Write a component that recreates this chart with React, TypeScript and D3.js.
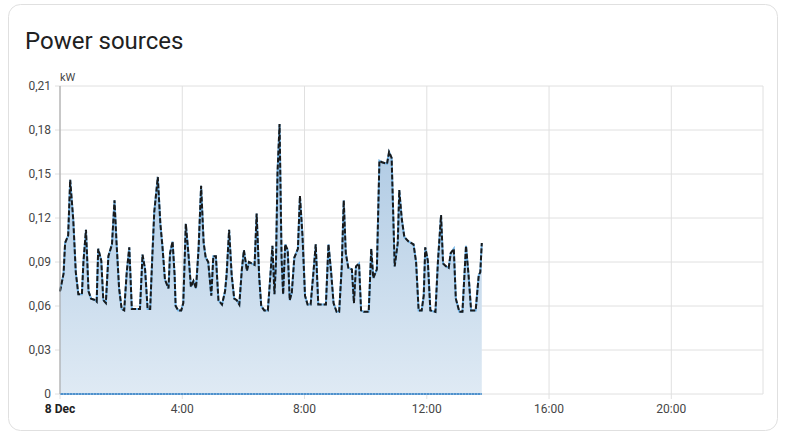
import React from 'react';
import * as d3 from 'd3';

// minutes since midnight, kW
const gridPower: [number, number][] = [
  [0, 0.070], [7, 0.082], [10, 0.103], [16, 0.108], [20, 0.146], [26, 0.119], [31, 0.083], [36, 0.068],
  [43, 0.068], [46, 0.090], [51, 0.112], [56, 0.070], [61, 0.065], [69, 0.064], [72, 0.063], [75, 0.099],
  [81, 0.091], [85, 0.064], [90, 0.062], [95, 0.094], [102, 0.102], [107, 0.132], [111, 0.103], [116, 0.072],
  [121, 0.058], [126, 0.057], [131, 0.083], [136, 0.100], [141, 0.058], [147, 0.058], [157, 0.058], [162, 0.095],
  [167, 0.085], [172, 0.058], [177, 0.058], [181, 0.092], [185, 0.124], [192, 0.148], [197, 0.116], [201, 0.101],
  [206, 0.078], [213, 0.072], [216, 0.096], [221, 0.104], [225, 0.081], [227, 0.060], [232, 0.057], [238, 0.057],
  [242, 0.062], [247, 0.116], [252, 0.096], [257, 0.073], [262, 0.077], [267, 0.072], [272, 0.099], [277, 0.142],
  [282, 0.103], [286, 0.093], [291, 0.090], [297, 0.067], [301, 0.094], [306, 0.094], [311, 0.064], [318, 0.061],
  [324, 0.070], [327, 0.081], [332, 0.112], [337, 0.081], [342, 0.065], [347, 0.064], [352, 0.061], [357, 0.085],
  [361, 0.098], [367, 0.084], [371, 0.090], [376, 0.089], [382, 0.088], [386, 0.123], [391, 0.080], [395, 0.060],
  [401, 0.057], [408, 0.057], [412, 0.076], [417, 0.101], [421, 0.068], [424, 0.090], [427, 0.151], [431, 0.184],
  [435, 0.092], [438, 0.068], [442, 0.102], [447, 0.098], [451, 0.064], [455, 0.069], [460, 0.093], [467, 0.099],
  [471, 0.135], [476, 0.108], [481, 0.067], [486, 0.061], [492, 0.061], [498, 0.085], [502, 0.102], [507, 0.061],
  [514, 0.061], [522, 0.061], [527, 0.102], [532, 0.084], [537, 0.062], [543, 0.056], [548, 0.056], [553, 0.086],
  [557, 0.132], [561, 0.096], [566, 0.086], [573, 0.085], [577, 0.062], [581, 0.087], [587, 0.089], [591, 0.057],
  [596, 0.056], [606, 0.056], [611, 0.099], [615, 0.079], [622, 0.085], [627, 0.159], [632, 0.158], [642, 0.157],
  [646, 0.165], [651, 0.161], [657, 0.087], [663, 0.103], [666, 0.139], [671, 0.119], [676, 0.107], [684, 0.104],
  [694, 0.102], [699, 0.090], [704, 0.057], [710, 0.057], [714, 0.067], [717, 0.100], [722, 0.091], [727, 0.057],
  [737, 0.056], [742, 0.091], [748, 0.122], [752, 0.089], [758, 0.087], [763, 0.086], [767, 0.096], [773, 0.099],
  [777, 0.065], [784, 0.056], [790, 0.056], [797, 0.101], [802, 0.081], [807, 0.057], [816, 0.057], [822, 0.081],
  [825, 0.083], [828, 0.103],
];

// second source, flat at zero
const solarPower: [number, number][] = [[0, 0], [828, 0]];

const xTicks = [0, 240, 480, 720, 960, 1200];
const xTickLabels = ['8 Dec', '4:00', '8:00', '12:00', '16:00', '20:00'];
const yTicks = [0, 0.03, 0.06, 0.09, 0.12, 0.15, 0.18, 0.21];
const yTickLabels = ['0', '0,03', '0,06', '0,09', '0,12', '0,15', '0,18', '0,21'];

const W = 785;
const H = 435;
const plot = { left: 60, right: 763, top: 86, bottom: 394 };
const font = 'Roboto, "Noto Sans", sans-serif';

export default function App() {
  const x = d3.scaleLinear().domain([0, 1380]).range([plot.left, plot.right]);
  const y = d3.scaleLinear().domain([0, 0.21]).range([plot.bottom, plot.top]);

  const area = d3.area<[number, number]>()
    .x(d => x(d[0]))
    .y0(y(0))
    .y1(d => y(d[1]));
  const line = d3.line<[number, number]>()
    .x(d => x(d[0]))
    .y(d => y(d[1]));

  return (
    <svg width={W} height={H} style={{ position: 'absolute', left: 0, top: 0 }} fontFamily={font}>
      <defs>
        <linearGradient id="fillGrad" gradientUnits="userSpaceOnUse" x1="0" y1={y(0.18)} x2="0" y2={y(0)}>
          <stop offset="0" stopColor="#adc9e3" />
          <stop offset="1" stopColor="#dfeaf4" />
        </linearGradient>
      </defs>
      <rect x={8.5} y={4.5} width={769} height={426} rx={12} fill="#fff" stroke="#e0e0e0" />
      <text x={25} y={49} fontSize={24} fill="#212121">Power sources</text>

      {/* grid */}
      {yTicks.map(t => (
        <line key={'gy' + t} x1={plot.left - 5} x2={plot.right} y1={y(t)} y2={y(t)} stroke="#e0e0e0" />
      ))}
      {xTicks.map(t => (
        <line key={'gx' + t} x1={x(t)} x2={x(t)} y1={plot.top} y2={plot.bottom + 5} stroke="#e0e0e0" />
      ))}
      <line x1={plot.right} x2={plot.right} y1={plot.top} y2={plot.bottom} stroke="#e0e0e0" />

      {/* series */}
      <path d={area(gridPower) || ''} fill="url(#fillGrad)" />
      <path d={line(gridPower) || ''} fill="none" stroke="#6fb3e8" strokeWidth={2} />
      <path d={line(gridPower) || ''} fill="none" stroke="#1a1a1a" strokeWidth={2} strokeDasharray="5,2" />
      <path d={line(solarPower) || ''} fill="none" stroke="#4f91cc" strokeWidth={2} />
      <path d={line(solarPower) || ''} fill="none" stroke="#7fb0dc" strokeWidth={2} strokeDasharray="1,2" />

      {/* axes */}
      <line x1={plot.left} x2={plot.left} y1={plot.top} y2={plot.bottom} stroke="#a0a0a0" />
      {yTicks.map((t, i) => (
        <text key={'yl' + t} x={plot.left - 9} y={y(t) + 4} fontSize={12} fill="#464646" textAnchor="end">
          {yTickLabels[i]}
        </text>
      ))}
      <text x={plot.left} y={plot.top - 5} fontSize={11} fill="#464646">kW</text>
      {xTicks.map((t, i) => (
        <text key={'xl' + t} x={x(t)} y={413} fontSize={12} fill={i === 0 ? '#212121' : '#464646'}
          fontWeight={i === 0 ? 'bold' : 'normal'} textAnchor="middle">
          {xTickLabels[i]}
        </text>
      ))}
    </svg>
  );
}
